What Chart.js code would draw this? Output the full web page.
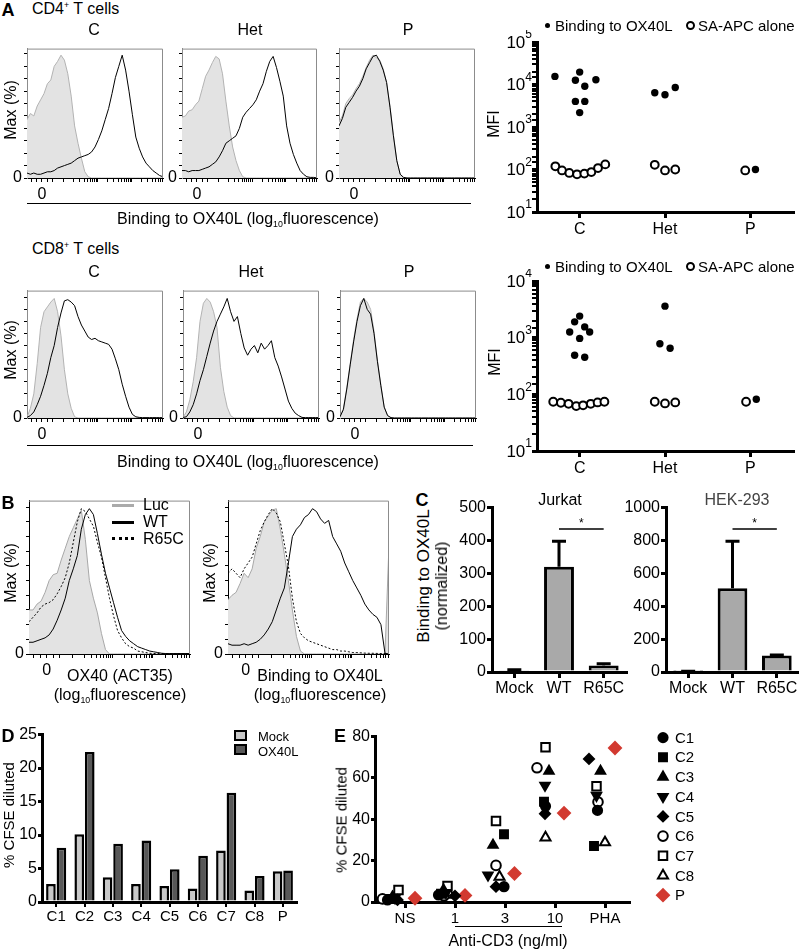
<!DOCTYPE html>
<html>
<head>
<meta charset="utf-8">
<script src="https://cdn.jsdelivr.net/npm/chart.js@4.4.1/dist/chart.umd.min.js"></script>
<style>
  body { margin: 0; background: #fff; }
  #fig { position: relative; width: 799px; height: 950px; overflow: hidden; font-family: "Liberation Sans", Arial, sans-serif; color: #000; }
  .t { position: absolute; white-space: nowrap; line-height: 1; }
  .t sup { font-size: 0.55em; vertical-align: 0.7em; line-height: 0; }
  .t sub { font-size: 0.55em; vertical-align: -0.3em; line-height: 0; }
  canvas { position: absolute; }
</style>
</head>
<body>
<div id="fig"></div>
<script>
// ---- histogram data (% of max, sampled along the fluorescence axis) ----
const HIST_X = [0, 2.5, 5, 7.5, 10, 12.5, 15, 17.5, 20, 22.5, 25, 27.5, 30, 32.5, 35, 37.5, 40, 42.5, 45, 47.5,
  50, 52.5, 55, 57.5, 60, 62.5, 65, 67.5, 70, 72.5, 75, 77.5, 80, 82.5, 85, 87.5, 90, 92.5, 95, 97.5, 100];
const HIST_XTICKS = [3, 7, 11, 15, 19, 27, 34.5, 38.9, 42, 44.5, 46.5, 48.1, 49.6, 50.9, 52, 59.5, 63.9, 67, 69.5,
  71.5, 73.1, 74.6, 75.9, 77, 84.5, 88.9, 92, 94.5, 96.5, 98.1, 99.6];
const HIST_ZERO = 11;
const HIST_YTICKS = [0, 10, 20, 30, 40, 50, 60, 70, 80, 90, 100];

const CD4_C_SA = [47, 52, 50, 58, 63, 68, 76, 79, 90, 94, 99, 95, 84, 66, 42, 28, 16, 5, 1, 0,
  0, 0, 0, 0, 0, 0, 0, 0, 0, 0, 0, 0, 0, 0, 0, 0, 0, 0, 0, 0, 0];
const CD4_C_BIND = [4, 3, 4, 3, 3, 4, 5, 5, 6, 8, 9, 10, 11, 12, 14, 16, 17, 18, 19, 21,
  25, 31, 38, 47, 56, 68, 81, 90, 99, 87, 70, 51, 33, 24, 17, 12, 9, 6, 4, 2, 1];
const CD4_HET_SA = [49, 50, 54, 55, 59, 62, 72, 82, 87, 93, 98, 96, 84, 62, 42, 25, 14, 6, 1, 0,
  0, 0, 0, 0, 0, 0, 0, 0, 0, 0, 0, 0, 0, 0, 0, 0, 0, 0, 0, 0, 0];
const CD4_HET_BIND = [6, 6, 5, 6, 6, 6, 7, 8, 9, 11, 13, 17, 22, 28, 30, 32, 34, 40, 49, 53,
  56, 59, 63, 70, 76, 86, 94, 98, 89, 78, 66, 42, 28, 19, 12, 6, 3, 1, 0.5, 0.5, 0];
const CD4_P_SA = [45, 50, 60, 64, 67, 72, 76, 82, 89, 95, 99, 97, 95, 88, 77, 58, 35, 14, 3, 0,
  0, 0, 0, 0, 0, 0, 0, 0, 0, 0, 0, 0, 0, 0, 0, 0, 0, 0, 0, 0, 0];
const CD4_P_BIND = [42, 48, 57, 61, 65, 70, 74, 80, 88, 93, 98, 99, 94, 87, 77, 57, 34, 14, 3, 0.5,
  0, 0, 0, 0, 0, 0, 0, 0, 0, 0, 0, 0, 0, 0, 0, 0, 0, 0, 0, 0, 0];

const CD8_C_SA = [0.5, 8, 20, 45, 75, 88, 92, 96, 99, 88, 68, 40, 20, 8, 1, 0, 0, 0, 0, 0,
  0, 0, 0, 0, 0, 0, 0, 0, 0, 0, 0, 0, 0, 0, 0, 0, 0, 0, 0, 0, 0];
const CD8_C_BIND = [0.5, 2, 5, 11, 18, 27, 37, 50, 60, 75, 87, 97, 98, 96, 93, 84, 77, 72, 67, 65,
  66, 64, 63, 62, 61, 57, 49, 40, 28, 18, 9, 3, 1, 0.5, 0.3, 0.3, 0.3, 0.3, 0.3, 0.3, 0.3];
const CD8_HET_SA = [0.5, 5, 15, 30, 50, 80, 95, 99, 96, 88, 75, 42, 22, 9, 2, 0, 0, 0, 0, 0,
  0, 0, 0, 0, 0, 0, 0, 0, 0, 0, 0, 0, 0, 0, 0, 0, 0, 0, 0, 0, 0];
const CD8_HET_BIND = [0.5, 1, 5, 11, 20, 31, 40, 51, 62, 72, 80, 86, 92, 99, 88, 80, 84, 70, 58, 52,
  57, 60, 54, 62, 57, 60, 64, 50, 43, 34, 24, 14, 8, 4, 2, 0.5, 0.3, 0.3, 0.3, 0.3, 0.3];
const CD8_P_SA = [1, 8, 25, 45, 65, 82, 96, 99, 96, 90, 72, 48, 28, 9, 2, 0, 0, 0, 0, 0,
  0, 0, 0, 0, 0, 0, 0, 0, 0, 0, 0, 0, 0, 0, 0, 0, 0, 0, 0, 0, 0];
const CD8_P_BIND = [1, 7, 24, 44, 63, 80, 93, 99, 90, 86, 70, 47, 27, 9, 2, 0.3, 0, 0, 0, 0,
  0, 0, 0, 0, 0, 0, 0, 0, 0, 0, 0, 0, 0, 0, 0, 0, 0, 0, 0, 0, 0];

const B1_LUC = [30, 30, 34, 36, 42, 50, 54, 55, 64, 72, 80, 86, 92, 98, 78, 50, 38, 28, 14, 3,
  0, 0, 0, 0, 0, 0, 0, 0, 0, 0, 0, 0, 0, 0, 0, 0, 0, 0, 0, 0, 0];
const B1_WT = [8, 8, 9, 10, 11, 13, 17, 23, 30, 38, 50, 58, 67, 85, 95, 99, 95, 82, 68, 55,
  45, 35, 25, 16, 12, 9, 7, 5, 4, 3, 2, 1.5, 1, 0.5, 0.3, 0.3, 0.3, 0.3, 0.3, 0.3, 0.3];
const B1_R65C = [22, 25, 28, 32, 34, 35, 37, 41, 46, 52, 62, 76, 90, 99, 97, 92, 87, 76, 66, 52,
  38, 26, 16, 11, 7, 5, 4, 2, 1.5, 1, 0.5, 0.3, 0.3, 0.3, 0.3, 0.3, 0.3, 0.3, 0.3, 0.3, 0.3];
const B2_LUC = [37, 40, 42, 48, 55, 52, 58, 72, 80, 90, 94, 98, 99, 85, 68, 50, 30, 12, 2, 0,
  0, 0, 0, 0, 0, 0, 0, 0, 0, 0, 0, 0, 0, 0, 0, 0, 0, 0, 0, 0, 75];
const B2_WT = [7, 6, 6, 6, 7, 6, 7, 8, 10, 13, 17, 22, 30, 38, 45, 62, 80, 85, 88, 93,
  95, 99, 97, 92, 89, 91, 80, 75, 70, 62, 56, 50, 45, 40, 34, 30, 27, 25, 20, 0.5, 0];
const B2_R65C = [55, 58, 55, 52, 58, 62, 66, 75, 84, 90, 95, 99, 96, 90, 75, 60, 38, 22, 14, 11,
  9, 8, 7, 6, 5, 4, 3, 3, 2, 2, 1.5, 1, 1, 0.8, 0.6, 0.5, 0.5, 0.4, 0.3, 0.3, 0.3];

// ---- MFI scatter (A, right) ----
const A_GROUPS = ['C', 'Het', 'P'];
const CD4_BIND_GRP = [0, 0, 0, 0, 0, 0, 0, 0, 1, 1, 1, 2];
const CD4_BIND_DX = [-0.29, -0.05, 0, 0.06, 0.19, -0.05, 0.06, 0, -0.12, 0, 0.12, 0.06];
const CD4_BIND = [15500, 12600, 19600, 9100, 12900, 4000, 4000, 2180, 6400, 5750, 8500, 100];
const CD4_SA_GRP = [0, 0, 0, 0, 0, 0, 0, 0, 1, 1, 1, 2];
const CD4_SA_DX = [-0.285, -0.207, -0.121, -0.031, 0.055, 0.137, 0.215, 0.3, -0.12, 0, 0.12, -0.06];
const CD4_SA = [119, 95, 83, 77, 80, 87, 108, 132, 129, 95, 100, 95];

const CD8_BIND_GRP = [0, 0, 0, 0, 0, 0, 0, 0, 1, 1, 1, 2];
const CD8_BIND_DX = [0, -0.059, -0.117, 0.059, 0.117, 0, -0.059, 0.059, 0, -0.06, 0.06, 0.07];
const CD8_BIND = [2400, 1900, 1260, 1550, 1260, 970, 490, 450, 3600, 780, 650, 82];
const CD8_SA_GRP = [0, 0, 0, 0, 0, 0, 0, 0, 1, 1, 1, 2];
const CD8_SA_DX = [-0.31, -0.22, -0.13, -0.04, 0.04, 0.13, 0.21, 0.29, -0.12, 0, 0.12, -0.05];
const CD8_SA = [74, 71, 68, 62, 64, 68, 72, 74, 74, 69, 72, 74];

// ---- C: normalized binding ----
const C_CATS = ['Mock', 'WT', 'R65C'];
const JURKAT_MEAN = [5, 320, 20];
const JURKAT_ERR = [2, 78, 5];
const HEK_MEAN = [3, 510, 100];
const HEK_ERR = [1, 285, 4];

// ---- D: CFSE per subject ----
const D_SUBJECTS = ['C1', 'C2', 'C3', 'C4', 'C5', 'C6', 'C7', 'C8', 'P'];
const D_MOCK = [2.7, 10.1, 3.7, 2.7, 2.4, 2.0, 7.7, 1.7, 4.6];
const D_OX40L = [8.1, 22.4, 8.7, 9.2, 4.9, 6.9, 16.3, 3.9, 4.7];

// ---- E: CFSE vs stimulus ----
const E_DOSES = ['NS', '1', '3', '10', 'PHA'];
const E_SUBJECTS = ['C1', 'C2', 'C3', 'C4', 'C5', 'C6', 'C7', 'C8', 'P'];
const E_Y = [
  [1, 3.4, 7.4, 46.3, 44.3],
  [1.5, 4, 32.8, 48.5, 27.1],
  [2.5, 5.8, 27.5, 63.3, 63.3],
  [2, 4.5, 13, 56.4, 51.5],
  [1, 3, 7.4, 42.7, 69.2],
  [1.5, 3, 17.7, 64.9, 48.4],
  [5.8, 7.7, 39.2, 74.9, 56],
  [2, 3.4, 12.2, 31.2, 28.8],
  [1.8, 3.2, 13.8, 43, 74.5]
];
const E_DX = [
  [-0.35, -0.33, -0.02, -0.19, -0.15],
  [-0.3, -0.28, -0.02, -0.22, -0.22],
  [-0.25, -0.23, -0.24, -0.12, -0.09],
  [-0.2, -0.18, -0.34, -0.2, -0.17],
  [-0.15, 0, -0.18, -0.2, -0.32],
  [-0.45, -0.22, -0.18, -0.36, -0.14],
  [-0.13, -0.15, -0.18, -0.19, -0.17],
  [-0.2, -0.1, -0.11, -0.19, 0],
  [0.2, 0.2, 0.19, 0.18, 0.2]
];

Chart.defaults.font.family = '"Liberation Sans", Arial, sans-serif';
Chart.defaults.color = '#000';
Chart.defaults.animation = false;
Chart.defaults.events = [];
Chart.defaults.plugins.legend.display = false;
Chart.defaults.plugins.tooltip.enabled = false;

const fig = document.getElementById('fig');

function txt(html, x, y, o = {}) {
  const d = document.createElement('div');
  d.className = 't';
  d.innerHTML = html;
  d.style.left = x + 'px';
  d.style.top = y + 'px';
  d.style.fontSize = (o.size || 16) + 'px';
  if (o.bold) d.style.fontWeight = 'bold';
  if (o.color) d.style.color = o.color;
  const ax = o.align === 'left' ? '0' : '-50%';
  d.style.transform = `translate(${ax},-50%)` + (o.rot ? ' rotate(-90deg)' : '');
  fig.appendChild(d);
}

function box(x, y, w, h, css) {
  const d = document.createElement('div');
  d.style.cssText = `position:absolute;left:${x}px;top:${y}px;width:${w}px;height:${h}px;box-sizing:border-box;${css}`;
  fig.appendChild(d);
}

// place a canvas so that its chart area lands exactly on plot {l,t,w,h}
function mk(plot, pad, config) {
  const c = document.createElement('canvas');
  const W = plot.w + pad.l + pad.r, H = plot.h + pad.t + pad.b;
  c.width = W; c.height = H;
  c.style.left = (plot.l - pad.l) + 'px';
  c.style.top = (plot.t - pad.t) + 'px';
  c.style.width = W + 'px';
  c.style.height = H + 'px';
  fig.appendChild(c);
  const o = config.options;
  o.responsive = false;
  o.layout = { padding: { top: pad.t, right: pad.r, left: 0, bottom: 0 }, autoPadding: false };
  o.scales.x.afterFit = s => { s.height = pad.b; };
  o.scales.y.afterFit = s => { s.width = pad.l; };
  return new Chart(c, config);
}

// gray box edges on top / right of the histograms
const frame = {
  id: 'frame',
  afterDatasetsDraw(chart) {
    const a = chart.chartArea, ctx = chart.ctx;
    ctx.save();
    ctx.strokeStyle = '#8c8c8c';
    ctx.lineWidth = 1;
    ctx.beginPath();
    ctx.moveTo(a.left, a.top + 0.5);
    ctx.lineTo(a.right - 0.5, a.top + 0.5);
    ctx.lineTo(a.right - 0.5, a.bottom);
    ctx.stroke();
    ctx.restore();
  }
};

function hist(plot, ymax, sets, yBorder) {
  return mk(plot, { l: 20, t: 4, r: 4, b: 26 }, {
    type: 'line',
    data: {
      datasets: sets.map(s => ({
        data: HIST_X.map((x, k) => ({ x, y: s.v[k] })),
        borderColor: s.line,
        borderWidth: s.bw || 1,
        borderDash: s.dash || [],
        backgroundColor: s.fill || 'rgba(0,0,0,0)',
        fill: s.fill ? 'origin' : false,
        pointRadius: 0,
        tension: 0,
        order: s.order
      }))
    },
    options: {
      scales: {
        x: {
          type: 'linear', min: 0, max: 100,
          afterBuildTicks: sc => { sc.ticks = HIST_XTICKS.map(v => ({ value: v })); },
          ticks: { autoSkip: false, maxRotation: 0, padding: 3, font: { size: 16 }, callback: v => (v === HIST_ZERO ? '0' : '') },
          grid: { drawOnChartArea: false, tickLength: 4, color: '#000' },
          border: { color: '#000', width: 1 }
        },
        y: {
          min: 0, max: ymax,
          afterBuildTicks: sc => { sc.ticks = HIST_YTICKS.map(v => ({ value: v })); },
          ticks: { autoSkip: false, padding: 2, font: { size: 16 }, callback: v => (v === 0 ? '0' : '') },
          grid: { drawOnChartArea: false, tickLength: 3, color: '#000' },
          border: { color: yBorder, width: 1 }
        }
      }
    },
    plugins: [frame]
  });
}

const GRAY_FILL = '#e3e3e3', GRAY_LINE = '#b3b3b3';
function aHist(plot, ymax, sa, bind) {
  return hist(plot, ymax, [
    { v: sa, line: GRAY_LINE, fill: GRAY_FILL, order: 2 },
    { v: bind, line: '#000', order: 1 }
  ], '#8c8c8c');
}

aHist({ l: 27, t: 41, w: 136, h: 137 }, 104.3, CD4_C_SA, CD4_C_BIND);
aHist({ l: 182, t: 41, w: 135, h: 137 }, 104.3, CD4_HET_SA, CD4_HET_BIND);
aHist({ l: 339, t: 41, w: 136, h: 137 }, 104.3, CD4_P_SA, CD4_P_BIND);
aHist({ l: 27, t: 283, w: 136, h: 135 }, 105.5, CD8_C_SA, CD8_C_BIND);
aHist({ l: 183, t: 283, w: 136, h: 135 }, 105.5, CD8_HET_SA, CD8_HET_BIND);
aHist({ l: 340, t: 283, w: 136, h: 135 }, 105.5, CD8_P_SA, CD8_P_BIND);

function bHist(plot, luc, wt, r65c) {
  return hist(plot, 104.5, [
    { v: luc, line: '#a8a8a8', fill: GRAY_FILL, order: 3 },
    { v: r65c, line: '#000', dash: [2, 2], order: 2 },
    { v: wt, line: '#000', order: 1 }
  ], '#000');
}
bHist({ l: 29, t: 493, w: 161, h: 161 }, B1_LUC, B1_WT, B1_R65C);
bHist({ l: 228, t: 493, w: 161, h: 161 }, B2_LUC, B2_WT, B2_R65C);

// ---- log axis labels "10^n" ----
const logLabels = {
  id: 'logLabels',
  afterDraw(chart, args, opts) {
    const y = chart.scales.y, ctx = chart.ctx;
    const x0 = chart.chartArea.left - 5;
    ctx.save();
    ctx.fillStyle = '#000';
    ctx.textBaseline = 'middle';
    opts.exps.forEach(p => {
      const py = y.getPixelForValue(Math.pow(10, p));
      ctx.font = '12px "Liberation Sans", Arial, sans-serif';
      const ew = ctx.measureText(String(p)).width;
      ctx.textAlign = 'left';
      ctx.fillText(String(p), x0 - ew, py - 7);
      ctx.font = '17px "Liberation Sans", Arial, sans-serif';
      ctx.textAlign = 'right';
      ctx.fillText('10', x0 - ew, py + 1);
    });
    ctx.restore();
  }
};

function mfi(plot, ymax, exps, bg, bdx, bv, sg, sdx, sv) {
  const pts = (g, d, v) => v.map((y, i) => ({ x: g[i] + d[i], y }));
  return mk(plot, { l: 50, t: 12, r: 8, b: 26 }, {
    type: 'scatter',
    data: {
      datasets: [
        { data: pts(bg, bdx, bv), pointRadius: 3.7, backgroundColor: '#000', borderColor: '#000', borderWidth: 0 },
        { data: pts(sg, sdx, sv), pointRadius: 3.9, backgroundColor: '#fff', borderColor: '#000', borderWidth: 2 }
      ]
    },
    options: {
      scales: {
        x: {
          type: 'linear', min: -0.5, max: 2.5,
          afterBuildTicks: sc => { sc.ticks = [0, 1, 2].map(v => ({ value: v })); },
          ticks: { autoSkip: false, maxRotation: 0, padding: 2, font: { size: 16 }, callback: v => A_GROUPS[v] },
          grid: { drawOnChartArea: false, tickLength: 6, lineWidth: 3, color: '#000' },
          border: { color: '#000', width: 3 }
        },
        y: {
          type: 'logarithmic', min: 10, max: ymax,
          ticks: { autoSkip: false, callback: () => '' },
          grid: { drawOnChartArea: false, tickLength: 5, lineWidth: c => (c.tick && c.tick.major ? 3 : 2), color: '#000' },
          border: { color: '#000', width: 3 }
        }
      },
      plugins: { logLabels: { exps } }
    },
    plugins: [logLabels]
  });
}
mfi({ l: 537, t: 42, w: 256, h: 170 }, 1e5, [1, 2, 3, 4, 5], CD4_BIND_GRP, CD4_BIND_DX, CD4_BIND, CD4_SA_GRP, CD4_SA_DX, CD4_SA);
mfi({ l: 537, t: 281, w: 256, h: 170 }, 1e4, [1, 2, 3, 4], CD8_BIND_GRP, CD8_BIND_DX, CD8_BIND, CD8_SA_GRP, CD8_SA_DX, CD8_SA);

// ---- C: bars with error bars and significance line ----
const errorBars = {
  id: 'errorBars',
  afterDatasetsDraw(chart, args, opts) {
    const ds = chart.data.datasets[0];
    const meta = chart.getDatasetMeta(0);
    const y = chart.scales.y, x = chart.scales.x, ctx = chart.ctx;
    ctx.save();
    ctx.strokeStyle = '#000';
    ctx.lineWidth = 3;
    opts.err.forEach((e, i) => {
      const bx = meta.data[i].x;
      const base = y.getPixelForValue(ds.data[i]);
      const top = y.getPixelForValue(ds.data[i] + e);
      ctx.beginPath();
      ctx.moveTo(bx, base);
      ctx.lineTo(bx, top);
      ctx.moveTo(bx - 7, top);
      ctx.lineTo(bx + 7, top);
      ctx.stroke();
    });
    const yy = y.getPixelForValue(opts.sig.value);
    const x1 = x.getPixelForValue(opts.sig.from), x2 = x.getPixelForValue(opts.sig.to);
    ctx.lineWidth = 1.5;
    ctx.beginPath();
    ctx.moveTo(x1, yy);
    ctx.lineTo(x2, yy);
    ctx.stroke();
    ctx.fillStyle = '#000';
    ctx.font = '12px "Liberation Sans", Arial, sans-serif';
    ctx.textAlign = 'center';
    ctx.textBaseline = 'alphabetic';
    ctx.fillText('*', (x1 + x2) / 2, yy - 2);
    ctx.restore();
  }
};

function cBars(plot, ymax, step, mean, err, sigValue) {
  return mk(plot, { l: 46, t: 8, r: 6, b: 28 }, {
    type: 'bar',
    data: {
      labels: C_CATS,
      datasets: [{ data: mean, backgroundColor: '#a9a9a9', borderColor: '#000', borderWidth: 3, barPercentage: 0.67, categoryPercentage: 1 }]
    },
    options: {
      scales: {
        x: {
          ticks: { font: { size: 16 }, padding: 1, maxRotation: 0 },
          grid: { offset: false, drawOnChartArea: false, tickLength: 6, lineWidth: 3, color: '#000' },
          border: { color: '#000', width: 3 }
        },
        y: {
          min: 0, max: ymax,
          ticks: { stepSize: step, font: { size: 16 }, padding: 1, callback: v => String(v) },
          grid: { drawOnChartArea: false, tickLength: 5, lineWidth: 3, color: '#000' },
          border: { color: '#000', width: 3 }
        }
      },
      plugins: { errorBars: { err, sig: { from: 1, to: 2, value: sigValue } } }
    },
    plugins: [errorBars]
  });
}
cBars({ l: 492, t: 505, w: 134, h: 167 }, 500, 100, JURKAT_MEAN, JURKAT_ERR, 435);
cBars({ l: 666, t: 505, w: 133, h: 167 }, 1000, 200, HEK_MEAN, HEK_ERR, 870);

// ---- D: grouped bars ----
mk({ l: 42, t: 734, w: 255, h: 168 }, { l: 40, t: 10, r: 6, b: 30 }, {
  type: 'bar',
  data: {
    labels: D_SUBJECTS,
    datasets: [
      { label: 'Mock', data: D_MOCK, backgroundColor: '#c8c8c8', borderColor: '#000', borderWidth: 2.5, borderSkipped: 'bottom', barPercentage: 0.92, categoryPercentage: 0.74 },
      { label: 'OX40L', data: D_OX40L, backgroundColor: '#585858', borderColor: '#000', borderWidth: 2.5, borderSkipped: 'bottom', barPercentage: 0.92, categoryPercentage: 0.74 }
    ]
  },
  options: {
    scales: {
      x: {
        ticks: { font: { size: 15 }, padding: 1, maxRotation: 0, autoSkip: false },
        grid: { offset: false, drawOnChartArea: false, tickLength: 5, lineWidth: 2, color: '#000' },
        border: { color: '#000', width: 3 }
      },
      y: {
        min: 0, max: 25,
        ticks: { stepSize: 5, font: { size: 16 }, padding: 1 },
        grid: { drawOnChartArea: false, tickLength: 4, lineWidth: 3, color: '#000' },
        border: { color: '#000', width: 3 }
      }
    }
  }
});

// ---- E: scatter with per-subject markers and side legend ----
const eMarks = [
  { pointStyle: 'circle', radius: 4.6, fill: '#000' },
  { pointStyle: 'rect', radius: 5.6, fill: '#000' },
  { pointStyle: 'triangle', radius: 5.4, fill: '#000' },
  { pointStyle: 'triangle', radius: 5.4, fill: '#000', rotation: 180 },
  { pointStyle: 'rectRot', radius: 5, fill: '#000' },
  { pointStyle: 'circle', radius: 4.8, fill: '#fff' },
  { pointStyle: 'rect', radius: 6, fill: '#fff' },
  { pointStyle: 'triangle', radius: 5.8, fill: '#fff' },
  { pointStyle: 'rectRot', radius: 6, fill: '#d23a30', stroke: '#d23a30' }
];

const eLegend = {
  id: 'eLegend',
  afterDraw(chart) {
    const ctx = chart.ctx, a = chart.chartArea;
    const x = a.right + 34;
    ctx.save();
    E_SUBJECTS.forEach((name, i) => {
      const m = eMarks[i];
      const y = a.top + 1 + i * 19.7;
      ctx.fillStyle = m.fill;
      ctx.strokeStyle = m.stroke || '#000';
      ctx.lineWidth = 2;
      Chart.helpers.drawPoint(ctx, { pointStyle: m.pointStyle, radius: m.radius, rotation: m.rotation || 0, borderWidth: 2 }, x, y);
      ctx.fillStyle = '#000';
      ctx.font = '15px "Liberation Sans", Arial, sans-serif';
      ctx.textAlign = 'left';
      ctx.textBaseline = 'middle';
      ctx.fillText(name, x + 12, y + 1);
    });
    ctx.restore();
  }
};

mk({ l: 375, t: 736, w: 254, h: 166 }, { l: 34, t: 10, r: 90, b: 28 }, {
  type: 'scatter',
  data: {
    datasets: E_SUBJECTS.map((name, s) => ({
      label: name,
      data: E_Y[s].map((y, d) => ({ x: d + E_DX[s][d], y })),
      pointStyle: eMarks[s].pointStyle,
      pointRadius: eMarks[s].radius,
      rotation: eMarks[s].rotation || 0,
      backgroundColor: eMarks[s].fill,
      borderColor: eMarks[s].stroke || '#000',
      borderWidth: 2,
      clip: false
    }))
  },
  options: {
    scales: {
      x: {
        type: 'linear', min: -0.6, max: 4.48,
        afterBuildTicks: sc => { sc.ticks = [0, 1, 2, 3, 4].map(v => ({ value: v })); },
        ticks: { autoSkip: false, maxRotation: 0, padding: 2, font: { size: 15 }, callback: v => E_DOSES[v] },
        grid: { drawOnChartArea: false, tickLength: 6, lineWidth: 3, color: '#000' },
        border: { color: '#000', width: 3 }
      },
      y: {
        min: 0, max: 80,
        ticks: { stepSize: 20, font: { size: 16 }, padding: 1 },
        grid: { drawOnChartArea: false, tickLength: 4, lineWidth: 3, color: '#000' },
        border: { color: '#000', width: 3 }
      }
    }
  },
  plugins: [eLegend]
});

// ---- text and annotations ----
txt('A', 8, 10, { size: 18, bold: true });
txt('CD4<sup>+</sup> T cells', 32, 9, { align: 'left' });
txt('C', 94, 30); txt('Het', 250, 30); txt('P', 408, 30);
txt('Max (%)', 11, 110, { rot: true });
box(27, 203, 444, 1, 'background:#000');
txt('Binding to OX40L (log<sub>10</sub>fluorescence)', 248, 219);

txt('CD8<sup>+</sup> T cells', 32, 249, { align: 'left' });
txt('C', 94, 272); txt('Het', 251, 272); txt('P', 409, 272);
txt('Max (%)', 11, 350, { rot: true });
box(27, 445, 446, 1, 'background:#000');
txt('Binding to OX40L (log<sub>10</sub>fluorescence)', 248, 462);

// MFI legends
[25, 266].forEach(y => {
  box(545, y - 2, 5, 5, 'background:#000;border-radius:50%');
  txt('Binding to OX40L', 555, y, { align: 'left', size: 15 });
  box(686, y - 4, 9, 9, 'border:2px solid #000;border-radius:50%');
  txt('SA-APC alone', 698, y, { align: 'left', size: 15 });
});
txt('MFI', 494, 124, { rot: true });
txt('MFI', 495, 362, { rot: true });

// B
txt('B', 8, 503, { size: 18, bold: true });
txt('Max (%)', 11, 573, { rot: true });
txt('Max (%)', 210, 573, { rot: true });
box(112, 504, 22, 3, 'background:#aaa');
txt('Luc', 143, 505, { align: 'left' });
box(112, 521, 22, 3, 'background:#000');
txt('WT', 143, 522, { align: 'left' });
box(112, 537, 22, 3, 'border-top:3px dotted #000');
txt('R65C', 143, 539, { align: 'left' });
txt('OX40 (ACT35)', 120, 676);
txt('(log<sub>10</sub>fluorescence)', 120, 695);
txt('Binding to OX40L', 320, 676);
txt('(log<sub>10</sub>fluorescence)', 320, 695);

// C
txt('C', 422, 500, { size: 18, bold: true });
txt('Jurkat', 560, 500);
txt('HEK-293', 737, 500, { color: '#444' });
txt('Binding to OX40L', 423, 576, { rot: true, size: 17 });
txt('(normalized)', 442, 586, { rot: true });

// D
txt('D', 8, 736, { size: 18, bold: true });
txt('% CFSE diluted', 8, 815, { rot: true, size: 15 });
box(234, 730, 13, 11, 'background:#c8c8c8;border:2px solid #000');
txt('Mock', 258, 736, { align: 'left', size: 13 });
box(234, 744, 13, 11, 'background:#585858;border:2px solid #000');
txt('OX40L', 258, 751, { align: 'left', size: 13 });

// E
txt('E', 340, 736, { size: 18, bold: true });
txt('% CFSE diluted', 341, 820, { rot: true, size: 15 });
box(455, 926, 107, 1, 'background:#000');
txt('Anti-CD3 (ng/ml)', 508, 941);
</script>
</body>
</html>
